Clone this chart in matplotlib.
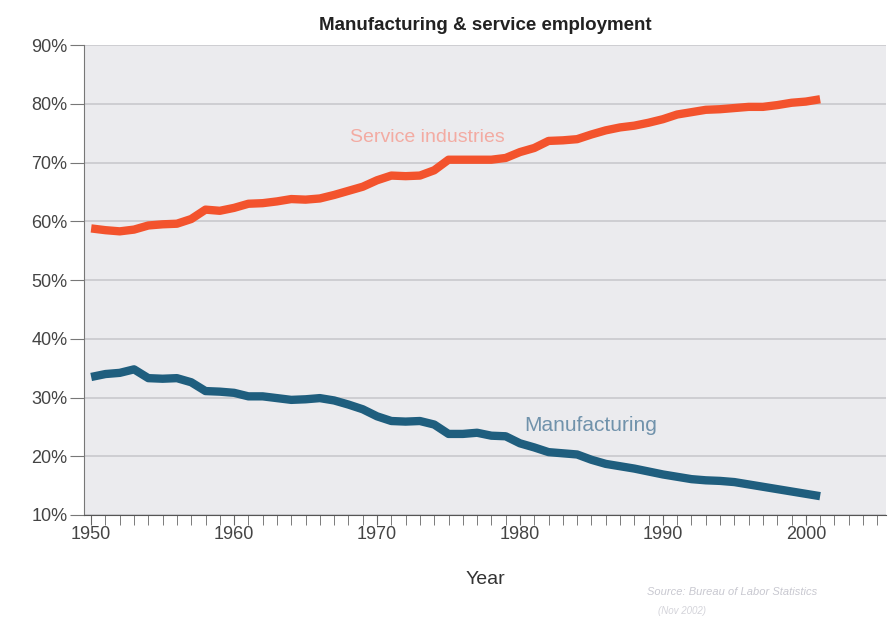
import matplotlib
matplotlib.use("Agg")
import matplotlib.pyplot as plt
from matplotlib.ticker import MultipleLocator, FuncFormatter

plt.rcParams["font.family"] = ["Liberation Sans", "DejaVu Sans"]

years = list(range(1950, 2002))

services = [58.8, 58.5, 58.3, 58.6, 59.3, 59.5, 59.6, 60.4, 62.0, 61.8,
            62.3, 63.0, 63.1, 63.4, 63.8, 63.7, 63.9, 64.5, 65.2, 65.9,
            67.0, 67.8, 67.7, 67.8, 68.7, 70.5, 70.5, 70.5, 70.5, 70.8,
            71.8, 72.5, 73.7, 73.8, 74.0, 74.8, 75.5, 76.0, 76.3, 76.8,
            77.4, 78.2, 78.6, 79.0, 79.1, 79.3, 79.5, 79.5, 79.8, 80.2,
            80.4, 80.8]

manufacturing = [33.5, 34.0, 34.2, 34.8, 33.3, 33.2, 33.3, 32.6, 31.1, 31.0,
                 30.8, 30.2, 30.2, 29.9, 29.6, 29.7, 29.9, 29.5, 28.8, 28.0,
                 26.8, 26.0, 25.9, 26.0, 25.4, 23.8, 23.8, 24.0, 23.5, 23.4,
                 22.2, 21.5, 20.7, 20.5, 20.3, 19.4, 18.7, 18.3, 17.9, 17.4,
                 16.9, 16.5, 16.1, 15.9, 15.8, 15.6, 15.2, 14.8, 14.4, 14.0,
                 13.6, 13.2]

red = "#f3532d"
blue = "#1f5e7e"

fig = plt.figure(figsize=(8.89, 6.28), dpi=100)
ax = fig.add_axes([0.0945, 0.18, 0.902, 0.748])
ax.set_facecolor("#ebebee")

ax.plot(years, services, color=red, lw=6, solid_joinstyle="round",
        solid_capstyle="butt", zorder=3)
ax.plot(years, manufacturing, color=blue, lw=6, solid_joinstyle="round",
        solid_capstyle="butt", zorder=3)

ax.set_xlim(1949.5, 2005.6)
ax.set_ylim(10, 90)
ax.yaxis.set_major_locator(MultipleLocator(10))
ax.yaxis.set_major_formatter(FuncFormatter(lambda v, p: f"{v:.0f}%"))
ax.xaxis.set_major_locator(MultipleLocator(10))
ax.xaxis.set_minor_locator(MultipleLocator(1))

ax.grid(axis="y", color="#c9c9cd", lw=1.2, zorder=1)
for s in ["top", "right"]:
    ax.spines[s].set_visible(False)
ax.spines["left"].set_color("#777777")
ax.spines["bottom"].set_color("#555555")
ax.tick_params(axis="y", length=10, color="#777777", labelsize=13,
               labelcolor="#444444", pad=2)
ax.tick_params(axis="x", which="both", length=7, color="#666666", labelsize=13,
               labelcolor="#444444", pad=1)

ax.set_xlabel("Year", fontsize=14, color="#333333", labelpad=20)
ax.set_title("Manufacturing & service employment", fontsize=13.5, fontweight="bold",
             color="#222222", pad=11)

ax.text(1968.1, 73.5, "Service industries", color="#f4a49a", fontsize=14, alpha=0.9)
ax.text(1980.3, 24.3, "Manufacturing", color="#7092ab", fontsize=15)

fig.text(0.728, 0.052, "Source: Bureau of Labor Statistics", color="#c8c8d0",
         fontsize=8, style="italic")
fig.text(0.74, 0.022, "(Nov 2002)", color="#d4d4da", fontsize=7, style="italic")

fig.savefig("out.png", dpi=100)
